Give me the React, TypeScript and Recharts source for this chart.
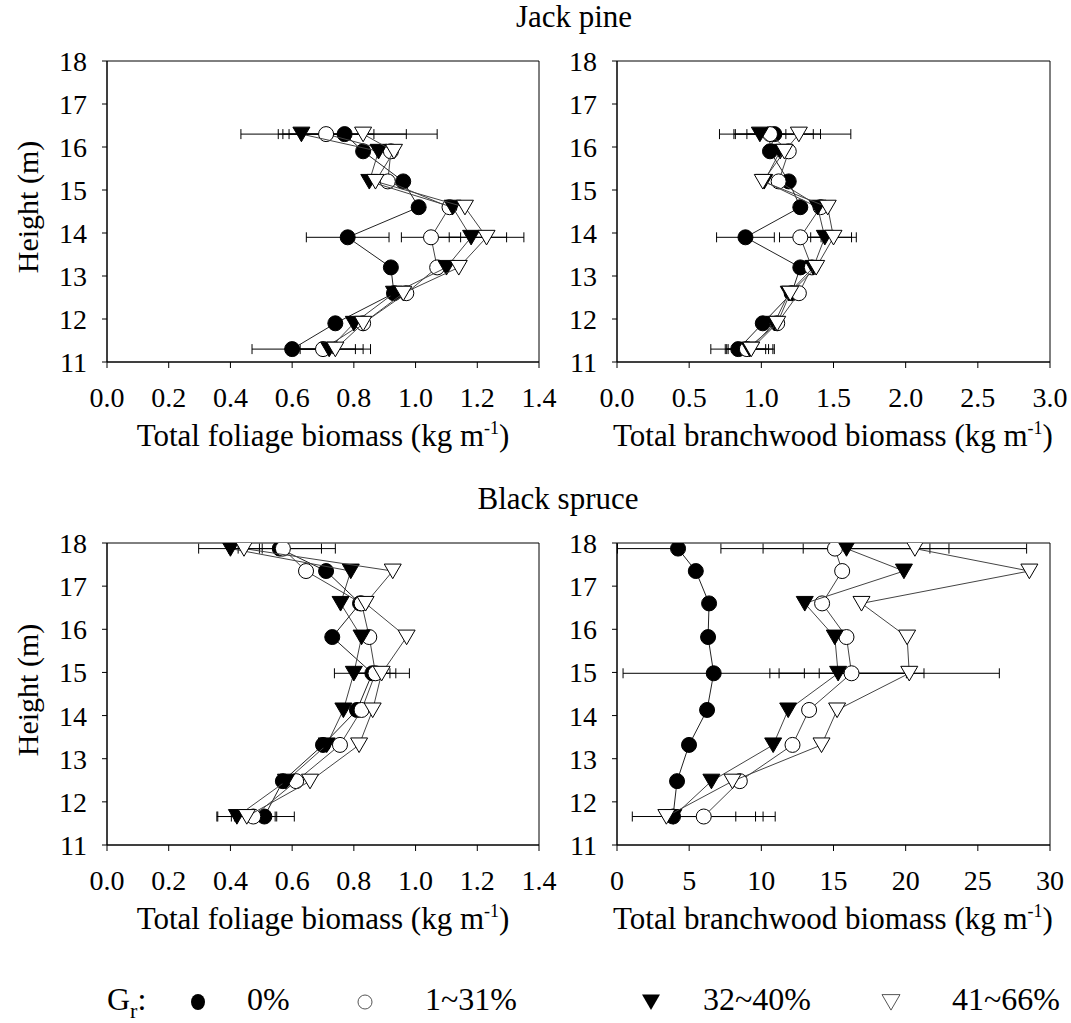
import React from "react";
import {
  ScatterChart,
  Scatter,
  XAxis,
  YAxis,
  ErrorBar,
  ReferenceArea
} from "recharts";

const FONT = "'Liberation Serif', 'DejaVu Serif', 'Times New Roman', Times, serif";

// heights of the crown sections (m)
const jpHeights = [16.3, 15.9, 15.2, 14.6, 13.9, 13.2, 12.6, 11.9, 11.3];
const bsHeights = [17.87, 17.35, 16.6, 15.82, 14.98, 14.13, 13.32, 12.48, 11.66];

const heightTicks = [11, 12, 13, 14, 15, 16, 17, 18];
const foliageTicks = [0, 0.2, 0.4, 0.6, 0.8, 1.0, 1.2, 1.4];
const jpBranchTicks = [0, 0.5, 1.0, 1.5, 2.0, 2.5, 3.0];
const bsBranchTicks = [0, 5, 10, 15, 20, 25, 30];

const groups = ["0%", "1~31%", "32~40%", "41~66%"];

// Jack pine, foliage
const jpFol0 = [0.77, 0.83, 0.96, 1.01, 0.78, 0.92, 0.93, 0.74, 0.6];
const jpFol1 = [0.71, 0.92, 0.91, 1.11, 1.05, 1.07, 0.97, 0.83, 0.7];
const jpFol32 = [0.63, 0.88, 0.85, 1.12, 1.18, 1.1, 0.93, 0.8, 0.72];
const jpFol41 = [0.83, 0.93, 0.87, 1.16, 1.23, 1.14, 0.96, 0.83, 0.74];
const jpFolErr0 = [0.2, 0, 0, 0, 0.134, 0, 0, 0, 0.13];
const jpFolErr1 = [0.155, 0, 0, 0, 0.096, 0, 0, 0, 0.105];
const jpFolErr32 = [0.196, 0, 0, 0, 0.115, 0, 0, 0, 0.11];
const jpFolErr41 = [0.24, 0, 0, 0, 0.121, 0, 0, 0, 0.114];

// Jack pine, branchwood
const jpBr0 = [1.09, 1.06, 1.19, 1.27, 0.89, 1.27, 1.21, 1.01, 0.84];
const jpBr1 = [1.06, 1.19, 1.12, 1.41, 1.27, 1.35, 1.26, 1.11, 0.9];
const jpBr32 = [0.99, 1.13, 1.02, 1.39, 1.44, 1.36, 1.19, 1.09, 0.92];
const jpBr41 = [1.26, 1.16, 1.01, 1.46, 1.5, 1.38, 1.2, 1.11, 0.93];
const jpBrErr0 = [0.27, 0, 0, 0, 0.2, 0, 0, 0, 0.19];
const jpBrErr1 = [0.35, 0, 0, 0, 0.144, 0, 0, 0, 0.15];
const jpBrErr32 = [0.18, 0, 0, 0, 0.185, 0, 0, 0, 0.16];
const jpBrErr41 = [0.36, 0, 0, 0, 0.158, 0, 0, 0, 0.16];

// Black spruce, foliage
const bsFol0 = [0.56, 0.71, 0.82, 0.73, 0.86, 0.81, 0.7, 0.57, 0.51];
const bsFol1 = [0.57, 0.645, 0.825, 0.85, 0.87, 0.825, 0.755, 0.613, 0.474];
const bsFol32 = [0.4, 0.79, 0.757, 0.825, 0.8, 0.766, 0.712, 0.58, 0.421];
const bsFol41 = [0.444, 0.926, 0.838, 0.971, 0.89, 0.861, 0.817, 0.658, 0.453];
const bsFolErr0 = [0.135, 0, 0, 0, 0.057, 0, 0, 0, 0.097];
const bsFolErr1 = [0.17, 0, 0, 0, 0.066, 0, 0, 0, 0.071];
const bsFolErr32 = [0.103, 0, 0, 0, 0.063, 0, 0, 0, 0.062];
const bsFolErr41 = [0.05, 0, 0, 0, 0.09, 0, 0, 0, 0.097];

// Black spruce, branchwood
const bsBr0 = [4.23, 5.46, 6.38, 6.31, 6.7, 6.24, 4.99, 4.16, 3.88];
const bsBr1 = [15.1, 15.6, 14.21, 15.9, 16.25, 13.31, 12.16, 8.51, 6.01];
const bsBr32 = [15.9, 19.88, 13.01, 15.09, 15.32, 11.86, 10.82, 6.54, 3.9];
const bsBr41 = [20.64, 28.57, 16.94, 20.1, 20.25, 15.25, 14.17, 8.0, 3.42];
const bsBrErr0: any[] = [[4.2, 0], 0, 0, 0, 6.28, 0, 0, 0, [0, 4.35]];
const bsBrErr1: any[] = [7.9, 0, 0, 0, 5.02, 0, 0, 0, 4.95];
const bsBrErr32: any[] = [5.78, 0, 0, 0, 4.73, 0, 0, 0, [0, 5.7]];
const bsBrErr41: any[] = [7.74, 0, 0, 0, 6.24, 0, 0, 0, [0, 6.7]];

const mk = (xs: number[], hs: number[], errs: any[]) =>
  xs.map((x, i) => ({ x, y: hs[i], err: errs[i] }));

const tri = (cx: number, cy: number, s: number) =>
  `${cx - s},${cy - s * 0.82} ${cx + s},${cy - s * 0.82} ${cx},${cy + s * 0.9}`;

const FilledCircle = (p: any) => (
  <circle cx={p.cx} cy={p.cy} r={7.5} fill="#000" stroke="#000" />
);
const OpenCircle = (p: any) => (
  <circle cx={p.cx} cy={p.cy} r={7.5} fill="#fff" stroke="#000" strokeWidth={1} />
);
const FilledTri = (p: any) => (
  <polygon points={tri(p.cx, p.cy, 8.5)} fill="#000" stroke="#000" />
);
const OpenTri = (p: any) => (
  <polygon points={tri(p.cx, p.cy, 8.5)} fill="#fff" stroke="#000" strokeWidth={1} />
);

const shapes = [FilledCircle, OpenCircle, FilledTri, OpenTri];

function Panel(props: {
  left: number;
  top: number;
  w: number;
  h: number;
  series: any[][];
  domain: [number, number];
  ticks: number[];
  fmt: (v: number) => string;
}) {
  const { left, top, w, h, series, domain, ticks, fmt } = props;
  const padL = 100;
  const padT = 22;
  const padR = 30;
  const axisH = 52;
  return (
    <div style={{ position: "absolute", left: left - padL, top: top - padT }}>
      <ScatterChart
        width={w + padL + padR}
        height={h + padT + axisH}
        margin={{ top: padT, right: padR, bottom: 0, left: 0 }}
      >
        <XAxis
          type="number"
          dataKey="x"
          domain={domain}
          ticks={ticks}
          interval={0}
          allowDataOverflow
          tickFormatter={fmt}
          height={axisH}
          tickSize={6}
          tickMargin={19}
          stroke="#000"
          tick={{ fill: "#000", fontSize: 28, fontFamily: FONT }}
        />
        <YAxis
          type="number"
          dataKey="y"
          domain={[11, 18]}
          ticks={heightTicks}
          interval={0}
          allowDataOverflow
          width={padL}
          tickSize={5}
          tickMargin={15}
          stroke="#000"
          tick={{ fill: "#000", fontSize: 28, fontFamily: FONT }}
        />
        <ReferenceArea
          x1={domain[0]}
          x2={domain[1]}
          y1={11}
          y2={18}
          fill="none"
          stroke="#000"
          strokeWidth={1}
        />
        {series.map((d, i) => (
          <Scatter
            key={groups[i]}
            name={groups[i]}
            data={d}
            shape={shapes[i]}
            line={{ stroke: i === 0 ? "#222" : "#444", strokeWidth: 1 }}
            lineType="joint"
            isAnimationActive={false}
          >
            <ErrorBar dataKey="err" direction="x" width={5} stroke="#000" strokeWidth={1} />
          </Scatter>
        ))}
      </ScatterChart>
    </div>
  );
}

const txt = (extra: React.CSSProperties): React.CSSProperties => ({
  position: "absolute",
  fontFamily: FONT,
  color: "#000",
  lineHeight: "40px",
  whiteSpace: "nowrap",
  ...extra
});

function XTitle(props: { cx: number; baseline: number; label: string }) {
  return (
    <div
      style={txt({
        left: props.cx - 250,
        width: 500,
        textAlign: "center",
        top: props.baseline - 32,
        fontSize: 31
      })}
    >
      {props.label} (kg m<sup style={{ fontSize: 18, lineHeight: 0, verticalAlign: 12 }}>-1</sup>)
    </div>
  );
}

function YTitle(props: { cy: number }) {
  return (
    <div
      style={txt({
        left: 28 - 100,
        top: props.cy - 20,
        width: 200,
        textAlign: "center",
        fontSize: 30,
        transform: "rotate(-90deg)"
      })}
    >
      Height (m)
    </div>
  );
}

function LegendMark(props: { cx: number; kind: number }) {
  const { cx, kind } = props;
  const cy = 1002;
  return (
    <svg
      width={24}
      height={24}
      style={{ position: "absolute", left: cx - 12, top: cy - 12 }}
      viewBox="-12 -12 24 24"
    >
      {kind === 0 && <ellipse cx={0} cy={0} rx={7} ry={8} fill="#000" />}
      {kind === 1 && <circle cx={0} cy={0} r={7} fill="#fff" stroke="#555" strokeWidth={1} />}
      {kind === 2 && <polygon points={tri(0, 0, 9)} fill="#000" />}
      {kind === 3 && <polygon points={tri(0, 0, 9)} fill="#fff" stroke="#555" strokeWidth={1} />}
    </svg>
  );
}

export default function App() {
  const f1 = (v: number) => v.toFixed(1);
  const f0 = (v: number) => String(v);
  const jpFol = [
    mk(jpFol0, jpHeights, jpFolErr0),
    mk(jpFol1, jpHeights, jpFolErr1),
    mk(jpFol32, jpHeights, jpFolErr32),
    mk(jpFol41, jpHeights, jpFolErr41)
  ];
  const jpBr = [
    mk(jpBr0, jpHeights, jpBrErr0),
    mk(jpBr1, jpHeights, jpBrErr1),
    mk(jpBr32, jpHeights, jpBrErr32),
    mk(jpBr41, jpHeights, jpBrErr41)
  ];
  const bsFol = [
    mk(bsFol0, bsHeights, bsFolErr0),
    mk(bsFol1, bsHeights, bsFolErr1),
    mk(bsFol32, bsHeights, bsFolErr32),
    mk(bsFol41, bsHeights, bsFolErr41)
  ];
  const bsBr = [
    mk(bsBr0, bsHeights, bsBrErr0),
    mk(bsBr1, bsHeights, bsBrErr1),
    mk(bsBr32, bsHeights, bsBrErr32),
    mk(bsBr41, bsHeights, bsBrErr41)
  ];

  const legendText = (left: number, s: string) => (
    <div style={txt({ left, top: 1012 - 33, fontSize: 32 })}>{s}</div>
  );

  return (
    <div
      style={{
        position: "absolute",
        left: 0,
        top: 0,
        width: 1071,
        height: 1023,
        background: "#fff",
        overflow: "hidden"
      }}
    >
      <div style={txt({ left: 474, width: 200, textAlign: "center", top: -3, fontSize: 31 })}>
        Jack pine
      </div>
      <div style={txt({ left: 458, width: 200, textAlign: "center", top: 479, fontSize: 31 })}>
        Black spruce
      </div>

      <Panel left={107} top={61} w={432} h={301} series={jpFol} domain={[0, 1.4]} ticks={foliageTicks} fmt={f1} />
      <Panel left={617} top={61} w={433} h={301} series={jpBr} domain={[0, 3]} ticks={jpBranchTicks} fmt={f1} />
      <Panel left={107} top={543} w={432} h={302} series={bsFol} domain={[0, 1.4]} ticks={foliageTicks} fmt={f1} />
      <Panel left={617} top={543} w={433} h={302} series={bsBr} domain={[0, 30]} ticks={bsBranchTicks} fmt={f0} />

      <YTitle cy={207} />
      <YTitle cy={690} />
      <XTitle cx={323} baseline={448} label="Total foliage biomass" />
      <XTitle cx={833} baseline={448} label="Total branchwood biomass" />
      <XTitle cx={323} baseline={931} label="Total foliage biomass" />
      <XTitle cx={833} baseline={931} label="Total branchwood biomass" />

      <div style={txt({ left: 107, top: 1012 - 33, fontSize: 32 })}>
        G<sub style={{ fontSize: 22, lineHeight: 0, verticalAlign: -8 }}>r</sub>:
      </div>
      <LegendMark cx={198} kind={0} />
      {legendText(247, groups[0])}
      <LegendMark cx={365} kind={1} />
      {legendText(425, groups[1])}
      <LegendMark cx={651} kind={2} />
      {legendText(703, groups[2])}
      <LegendMark cx={891} kind={3} />
      {legendText(952, groups[3])}
    </div>
  );
}
